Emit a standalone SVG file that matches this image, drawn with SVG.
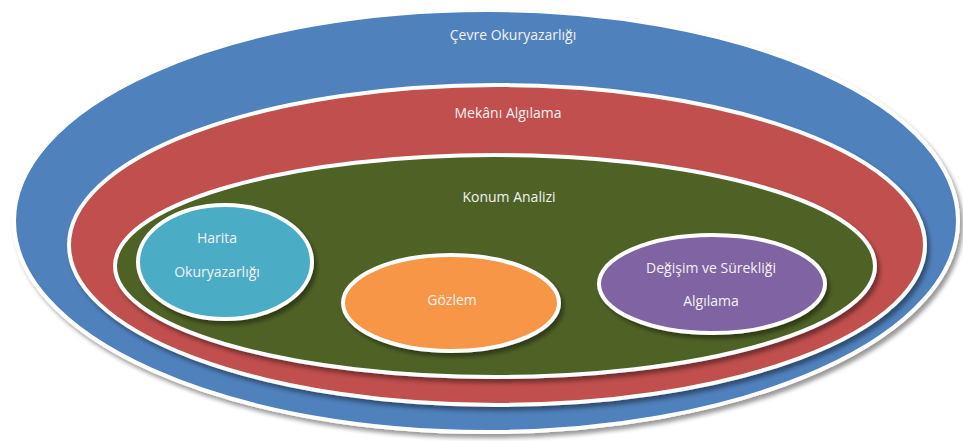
<svg xmlns="http://www.w3.org/2000/svg" width="963" height="441" viewBox="0 0 963 441">
<defs>
<filter id="sh" x="-10%" y="-10%" width="120%" height="130%">
<feDropShadow dx="3" dy="4" stdDeviation="2" flood-color="#000" flood-opacity="0.4"/>
</filter>
</defs>
<style>
.e{stroke:#fff;stroke-width:4;filter:url(#sh)}
text{font-family:"Open Sans","Liberation Sans",sans-serif;font-size:14px;fill:#f2f2f2;text-anchor:middle}
</style>
<rect width="963" height="441" fill="#fff"/>
<g id="cevre">
<ellipse class="e" cx="486" cy="221" rx="472" ry="211" fill="#4F81BD" stroke="#eee"/>
<text x="513" y="40">Çevre Okuryazarlığı</text>
</g>
<g id="mekani">
<ellipse class="e" cx="497" cy="245" rx="428" ry="160" fill="#C0504D"/>
<text x="508" y="118">Mekânı Algılama</text>
</g>
<g id="konum">
<ellipse class="e" cx="495" cy="266" rx="380" ry="111" fill="#4F6228"/>
<text x="509" y="202">Konum Analizi</text>
</g>
<g id="harita">
<ellipse class="e" cx="225" cy="262" rx="87" ry="57" fill="#4BACC6"/>
<text x="217" y="243">Harita</text>
<text x="217" y="277">Okuryazarlığı</text>
</g>
<g id="gozlem">
<ellipse class="e" cx="451" cy="303" rx="108" ry="48" fill="#F79646"/>
<text x="452" y="305">Gözlem</text>
</g>
<g id="degisim">
<ellipse class="e" cx="712" cy="284" rx="113" ry="49" fill="#8064A2"/>
<text x="711" y="273">Değişim ve Sürekliği</text>
<text x="711" y="306">Algılama</text>
</g>
<g id="connectors"/>
</svg>
